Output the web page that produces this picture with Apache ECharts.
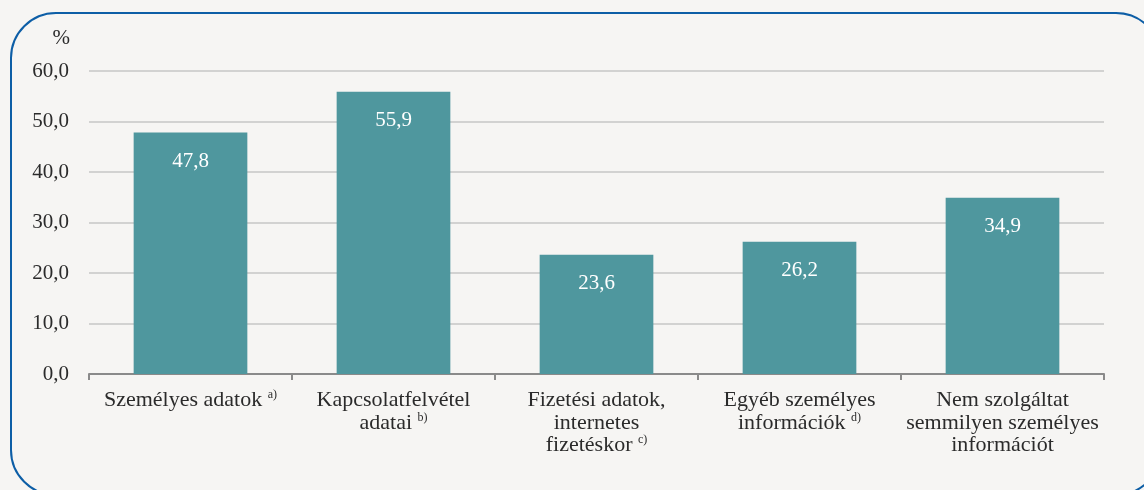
<!DOCTYPE html>
<html>
<head>
<meta charset="utf-8">
<script src="https://cdn.jsdelivr.net/npm/echarts@6/dist/echarts.min.js"></script>
<style>
  html, body { margin: 0; padding: 0; background: #f6f5f3; }
  #chart { width: 1144px; height: 490px; }
</style>
</head>
<body>
<div id="chart"></div>
<script>
// Category names (line breaks as set in the layout) and their footnote markers
const categories = [
  'Személyes adatok',
  'Kapcsolatfelvétel\nadatai',
  'Fizetési adatok,\ninternetes\nfizetéskor',
  'Egyéb személyes\ninformációk',
  'Nem szolgáltat\nsemmilyen személyes\ninformációt'
];
const footnotes = ['a)', 'b)', 'c)', 'd)', ''];
// Share of respondents, %
const values = [47.8, 55.9, 23.6, 26.2, 34.9];
const yTicks = { min: 0, max: 60, interval: 10 };

const fmt = v => v.toFixed(1).replace('.', ',');
const FONT = 'Liberation Serif';
const TEXT = '#2b2b2b';

const chart = echarts.init(document.getElementById('chart'));
chart.setOption({
  backgroundColor: '#f6f5f3',
  textStyle: { fontFamily: FONT },
  graphic: [{
    type: 'rect',
    shape: { x: 11, y: 13, width: 1150, height: 482, r: 45 },
    style: { fill: 'none', stroke: '#0d5ea6', lineWidth: 2 },
    z: 0
  }],
  grid: { left: 89, right: 40, top: 71, bottom: 116 },
  xAxis: {
    type: 'category',
    data: categories,
    axisLine: { lineStyle: { color: '#8a8a8a', width: 2 } },
    axisTick: { show: true, length: 6, lineStyle: { color: '#8a8a8a', width: 2 } },
    axisLabel: {
      interval: 0,
      margin: 15,
      color: TEXT,
      fontFamily: FONT,
      fontSize: 22,
      lineHeight: 22.5,
      formatter: (val, idx) => {
        const note = footnotes[idx];
        return note ? val + ' {sup|' + note + '}' : val;
      },
      rich: {
        sup: { fontSize: 12, fontFamily: FONT, color: TEXT, verticalAlign: 'top', lineHeight: 12 }
      }
    }
  },
  yAxis: {
    type: 'value',
    min: yTicks.min,
    max: yTicks.max,
    interval: yTicks.interval,
    name: '%',
    nameLocation: 'end',
    nameGap: 22,
    nameTextStyle: { color: TEXT, fontFamily: FONT, fontSize: 21, align: 'right', padding: [0, 19, 0, 0] },
    axisLine: { show: false },
    axisTick: { show: false },
    axisLabel: { color: TEXT, fontFamily: FONT, fontSize: 21, margin: 20, formatter: v => fmt(v) },
    splitLine: { lineStyle: { color: '#c6c6c6', width: 1.5 } }
  },
  series: [{
    type: 'bar',
    data: values,
    barWidth: '56%',
    itemStyle: { color: '#4f979e' },
    label: {
      show: true,
      position: 'insideTop',
      distance: 18,
      color: '#ffffff',
      fontFamily: FONT,
      fontSize: 21,
      formatter: p => fmt(p.value)
    }
  }]
});
</script>
</body>
</html>
